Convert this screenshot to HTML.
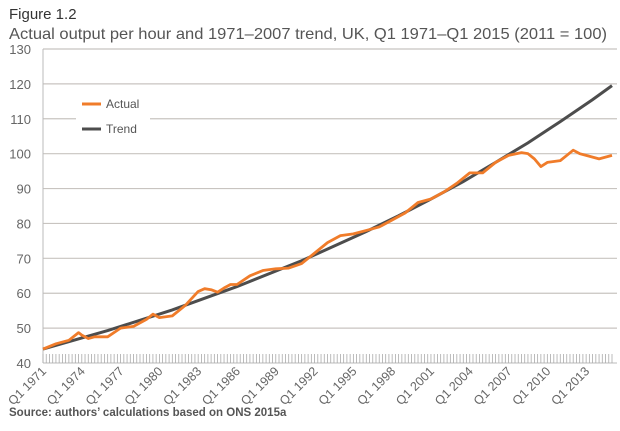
<!DOCTYPE html>
<html><head><meta charset="utf-8"><style>
body{margin:0;background:#fff;font-family:"Liberation Sans",sans-serif}
svg text{font-family:"Liberation Sans",sans-serif}
</style></head><body>
<svg width="620" height="426" viewBox="0 0 620 426">
<text x="9" y="19" font-size="15" fill="#333">Figure 1.2</text>
<text x="9" y="39" font-size="16" fill="#555" textLength="598" lengthAdjust="spacingAndGlyphs">Actual output per hour and 1971–2007 trend, UK, Q1 1971–Q1 2015 (2011 = 100)</text>
<g id="grid"></g>
<g id="yt"></g>
<g id="xt"></g>
<g id="series"></g>
<g>
<rect x="76" y="92" width="74" height="48" fill="#fff"/>
<line x1="82" y1="104" x2="101" y2="104" stroke="#f07c2a" stroke-width="3"/>
<text x="106" y="108" font-size="12" fill="#555">Actual</text>
<line x1="82" y1="129" x2="101" y2="129" stroke="#4d4d4d" stroke-width="3"/>
<text x="106" y="133" font-size="12" fill="#555">Trend</text>
</g>
<text x="9" y="416" font-size="11.5" font-weight="bold" fill="#555">Source: authors’ calculations based on ONS 2015a</text>
</svg>
<script>
const yTicks=[40,50,60,70,80,90,100,110,120,130];
const xLabels=["Q1 1971","Q1 1974","Q1 1977","Q1 1980","Q1 1983","Q1 1986","Q1 1989","Q1 1992","Q1 1995","Q1 1998","Q1 2001","Q1 2004","Q1 2007","Q1 2010","Q1 2013"];
// quarter index from Q1 1971
const actualQ=[0,4,8,11,12,14,16,20,24,28,30,32,34,36,40,44,48,50,52,54,56,58,60,64,68,72,76,80,84,88,92,96,100,104,108,112,116,120,124,128,132,136,140,144,148,150,152,154,156,160,162,164,166,168,172,176];
const actualV=[44,45.5,46.5,48.7,48,47,47.5,47.5,50,50.5,51.5,52.5,54,53,53.5,56.5,60.5,61.3,61,60.3,61.5,62.5,62.5,65,66.5,67,67.2,68.5,71.5,74.5,76.5,77,78,79,81,83,86,87,89,91.5,94.5,94.5,97.5,99.5,100.3,100,98.5,96.3,97.5,98,99.5,101,100,99.5,98.5,99.5];
const trendQ=[0,20,40,60,80,100,110,120,130,140,150,160,170,176];
const trendV=[44,49.3,55.2,61.9,69.3,77.7,82.2,87.0,92.0,97.5,103.1,109.2,115.5,119.5];
const X0=43,X1=612,NQ=176,Y0=363,Y1=49;
const xs=q=>X0+q*(X1-X0)/NQ;
const ys=v=>Y0-(v-40)*(Y0-Y1)/90;
const NS="http://www.w3.org/2000/svg";
function mk(t,a,p){const e=document.createElementNS(NS,t);for(const k in a)e.setAttribute(k,a[k]);p.appendChild(e);return e;}
const grid=document.getElementById('grid'),yt=document.getElementById('yt'),xt=document.getElementById('xt'),ser=document.getElementById('series');
yTicks.forEach(v=>{
 if(v>40){const l=mk('line',{x1:X0,x2:617,y1:ys(v),y2:ys(v),stroke:'#c8c4c0','stroke-width':1.2},grid);
 
 }
 const t=mk('text',{x:31,y:ys(v)+5,'font-size':13,fill:'#666','text-anchor':'end'},yt);t.textContent=v;
 
 
});
mk('line',{x1:X0,x2:X0,y1:Y1,y2:Y0,stroke:'#bbb','stroke-width':1},grid);
mk('line',{x1:X0,x2:617,y1:Y0,y2:Y0,stroke:'#bbb','stroke-width':1},grid);
for(let q=0;q<=NQ;q++)mk('line',{x1:xs(q),x2:xs(q),y1:Y0,y2:Y0-9,stroke:'#aaa','stroke-width':0.8},xt);
xLabels.forEach((s,i)=>{const x=xs(i*12);
 const t=mk('text',{x:0,y:0,'font-size':12.5,fill:'#666','text-anchor':'end',transform:`translate(${x+4},${Y0+9}) rotate(-45)`},xt);t.textContent=s;
 
 
});
const tp=mk('polyline',{points:trendQ.map((q,i)=>xs(q)+','+ys(trendV[i])).join(' '),fill:'none',stroke:'#4d4d4d','stroke-width':3},ser);


const ap=mk('polyline',{points:actualQ.map((q,i)=>xs(q)+','+ys(actualV[i])).join(' '),fill:'none',stroke:'#f07c2a','stroke-width':2.8,'stroke-linejoin':'round'},ser);


</script>
</body></html>
